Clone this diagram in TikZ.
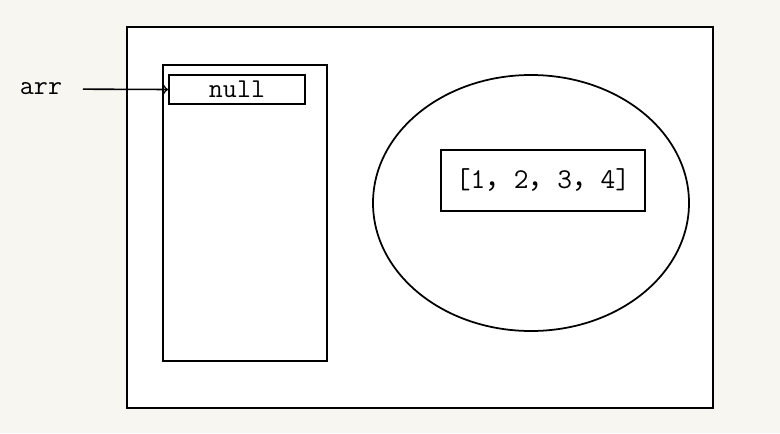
\documentclass[tikz,border=0pt]{standalone}
\usepackage{fontspec}
\setmonofont{Latin Modern Mono}
\newfontfamily\cjk{Noto Sans CJK SC}
\usepackage{tikz}
\usetikzlibrary{arrows,shapes.geometric,positioning}

\definecolor{paper}{HTML}{F8F6F0}
\newcommand{\zc}{{\cjk ，}}

\begin{document}
\begin{tikzpicture}
    [
      x=0.02cm,y=-0.02cm,
      box/.style={draw=black,line width=1pt,fill=white,inner sep=0pt},
      label/.style={font=\ttfamily\fontsize{15.5}{17}\selectfont,inner sep=2pt},
      ref/.style={->,>=to,line width=0.9pt},
    ]

    \fill[paper] (0,0) rectangle (780,433);
    \useasboundingbox (0,0) rectangle (780,433);

    \node (memory) [box,minimum width=586*0.02cm,minimum height=381*0.02cm] at (420,217.5) {};
    \node (stack) [box,minimum width=164*0.02cm,minimum height=296*0.02cm] at (245,213) {};
    \node (slot) [box,label,minimum width=136*0.02cm,minimum height=29*0.02cm] at (237,89.5) {null};
    \node (heap) [box,ellipse,minimum width=316*0.02cm,minimum height=256*0.02cm] at (531,203) {};
    \node (array) [box,label,font=\ttfamily\fontsize{16.3}{18}\selectfont,minimum width=204*0.02cm,minimum height=61*0.02cm] at (543,180.5) {[1\zc 2\zc 3\zc 4]};
    \node (arr) [label] at (41,89) {arr};

    \path
    (arr) edge [ref,shorten <=0.34cm] (slot.west)
    ;

  \end{tikzpicture}
\end{document}
